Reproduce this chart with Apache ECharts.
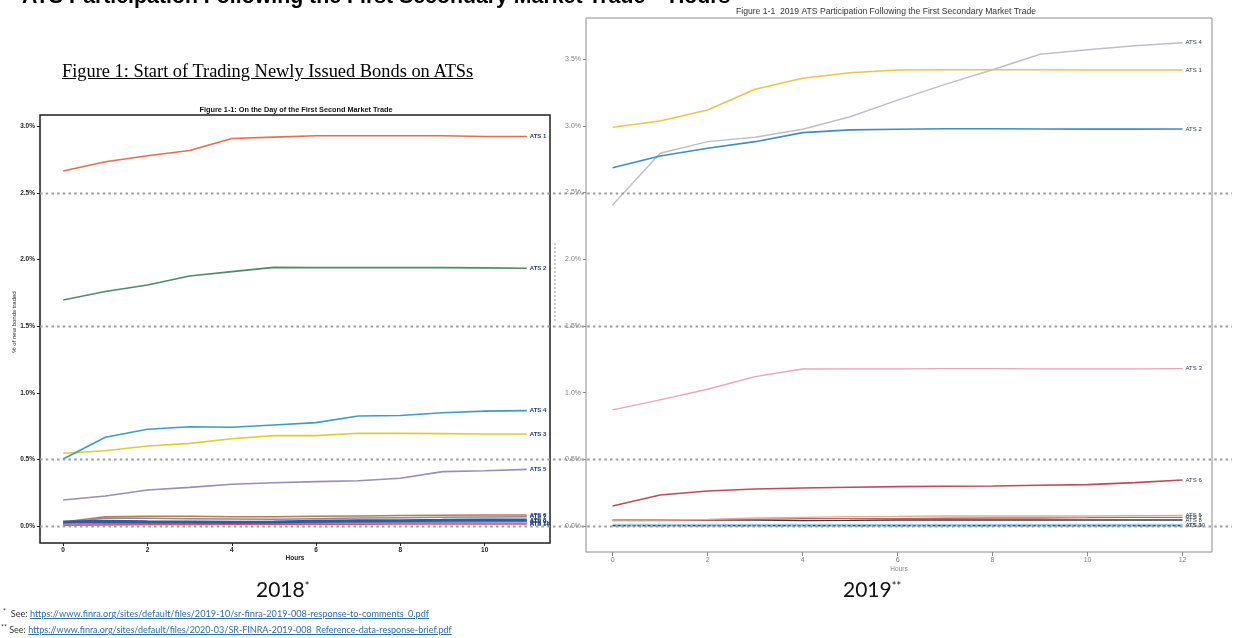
<!DOCTYPE html>
<html>
<head>
<meta charset="utf-8">
<script src="https://cdn.jsdelivr.net/npm/echarts@6/dist/echarts.min.js"></script>
<style>
  html, body { margin: 0; padding: 0; background: #fff; }
  #wrap { position: relative; width: 1239px; height: 638px; overflow: hidden; background: #fff; }
  #chart { position: absolute; left: 0; top: 0; width: 1239px; height: 638px; }
  .t { position: absolute; white-space: nowrap; z-index: 5; }
  #slideTitle { left: 22px; top: -14px; font: bold 21.3px "Liberation Sans", Arial, sans-serif; line-height: 21px; color: #000; }
  #fig1 { left: 62px; top: 61px; font: 18.4px "Liberation Serif", "Times New Roman", serif; line-height: 20px; color: #000; text-decoration: underline; }
  .year { font: 21px Lato, "Noto Sans", sans-serif; line-height: 24px; color: #111; }
  .year sup { font-size: 11px; vertical-align: top; position: relative; top: -3px; }
  .note { font: 9.2px Lato, "Noto Sans", sans-serif; line-height: 12px; color: #333; }
  .note a { color: #2f6db5; text-decoration: underline; }
  .note .mk { font-size: 7px; position: relative; top: -3px; }
</style>
</head>
<body>
<div id="wrap">
  <div id="chart"></div>
  <div class="t" id="slideTitle">ATS Participation Following the First Secondary Market Trade – Hours</div>
  <div class="t" id="fig1">Figure 1: Start of Trading Newly Issued Bonds on ATSs</div>
  <div class="t year" style="left:256px; top:577px;">2018<sup>*</sup></div>
  <div class="t year" style="left:843px; top:577px;">2019<sup>**</sup></div>
  <div class="t note" style="left:3px; top:608px;"><span class="mk">*</span>&nbsp; See: <a>https://www.finra.org/sites/default/files/2019-10/sr-finra-2019-008-response-to-comments_0.pdf</a></div>
  <div class="t note" style="left:1px; top:624px; font-size:9px;"><span class="mk">**</span> See: <a>https://www.finra.org/sites/default/files/2020-03/SR-FINRA-2019-008_Reference-data-response-brief.pdf</a></div>
</div>
<script>
// Hours since first secondary market trade
const hours2018 = [0, 1, 2, 3, 4, 5, 6, 7, 8, 9, 10, 11];
const hours2019 = [0, 1, 2, 3, 4, 5, 6, 7, 8, 9, 10, 11, 12];

// 2018: % of new bonds traded on each ATS
const ats1_2018 = [2.665, 2.735, 2.78, 2.82, 2.91, 2.92, 2.93, 2.93, 2.93, 2.93, 2.925, 2.925];
const ats2_2018 = [1.697, 1.76, 1.81, 1.877, 1.91, 1.942, 1.94, 1.94, 1.94, 1.94, 1.938, 1.935];
const ats4_2018 = [0.503, 0.666, 0.726, 0.745, 0.741, 0.758, 0.776, 0.826, 0.83, 0.85, 0.862, 0.866];
const ats3_2018 = [0.546, 0.565, 0.60, 0.62, 0.655, 0.678, 0.678, 0.696, 0.695, 0.693, 0.69, 0.69];
const ats5_2018 = [0.195, 0.225, 0.27, 0.29, 0.313, 0.325, 0.333, 0.34, 0.358, 0.408, 0.415, 0.425];
const ats6_2018 = [0.03, 0.07, 0.072, 0.072, 0.07, 0.07, 0.072, 0.075, 0.078, 0.08, 0.082, 0.083];
const ats7_2018 = [0.02, 0.06, 0.058, 0.055, 0.052, 0.05, 0.055, 0.06, 0.062, 0.065, 0.068, 0.07];
const ats8_2018 = [0.03, 0.035, 0.032, 0.03, 0.028, 0.03, 0.035, 0.04, 0.04, 0.042, 0.045, 0.045];
const ats9_2018 = [0.025, 0.02, 0.02, 0.022, 0.022, 0.025, 0.025, 0.028, 0.03, 0.03, 0.032, 0.033];
const ats10_2018 = [0.005, 0.008, 0.01, 0.01, 0.012, 0.012, 0.012, 0.012, 0.015, 0.015, 0.015, 0.015];
const ats11_2018 = [0.012, 0.015, 0.018, 0.02, 0.02, 0.02, 0.02, 0.02, 0.02, 0.022, 0.022, 0.022];

// 2019: % of new bonds traded on each ATS
const ats1_2019 = [2.989, 3.036, 3.118, 3.274, 3.356, 3.398, 3.418, 3.42, 3.42, 3.42, 3.418, 3.418, 3.418];
const ats2_2019 = [2.686, 2.774, 2.831, 2.881, 2.949, 2.969, 2.974, 2.978, 2.978, 2.976, 2.975, 2.975, 2.976];
const ats4_2019 = [2.406, 2.794, 2.881, 2.914, 2.974, 3.068, 3.193, 3.31, 3.42, 3.536, 3.57, 3.60, 3.623];
const ats3_2019 = [0.87, 0.945, 1.025, 1.12, 1.177, 1.178, 1.178, 1.18, 1.18, 1.178, 1.178, 1.178, 1.18];
const ats6_2019 = [0.15, 0.232, 0.262, 0.277, 0.285, 0.29, 0.295, 0.298, 0.3, 0.305, 0.31, 0.325, 0.345];
const ats5_2019 = [0.045, 0.045, 0.05, 0.06, 0.065, 0.07, 0.072, 0.075, 0.075, 0.075, 0.075, 0.078, 0.08];
const ats7_2019 = [0.04, 0.04, 0.045, 0.05, 0.055, 0.055, 0.055, 0.058, 0.06, 0.06, 0.062, 0.065, 0.065];
const ats8_2019 = [0.045, 0.045, 0.045, 0.045, 0.04, 0.042, 0.045, 0.045, 0.045, 0.045, 0.045, 0.045, 0.045];
const ats9_2019 = [0.005, 0.005, 0.005, 0.005, 0.005, 0.005, 0.005, 0.005, 0.005, 0.005, 0.005, 0.005, 0.005];
const ats10_2019 = [0.002, 0.002, 0.002, 0.002, 0.002, 0.002, 0.002, 0.002, 0.002, 0.002, 0.002, 0.002, 0.002];

// Axis ticks
const xTicks2018 = [0, 2, 4, 6, 8, 10];
const xTicks2019 = [0, 2, 4, 6, 8, 10, 12];
const yTicks2018 = [0, 0.5, 1, 1.5, 2, 2.5, 3];
const yTicks2019 = [0, 0.5, 1, 1.5, 2, 2.5, 3, 3.5];
// Slide-wide dotted reference levels (%)
const guideLevels = [0, 0.5, 1.5, 2.5];

const pct = v => v.toFixed(1) + '%';
const pairs = (xs, ys) => xs.map((x, i) => [x, ys[i]]);

function line2018(name, hours, values, color, width, extra) {
  return Object.assign({
    name, type: 'line', xAxisIndex: 0, yAxisIndex: 0,
    data: pairs(hours, values), showSymbol: false, silent: true,
    lineStyle: { color, width },
    endLabel: { show: true, formatter: '{a}', color: '#1b3b8e', fontSize: 6, fontWeight: 'bold',
                fontFamily: 'Liberation Sans', distance: 3 }
  }, extra || {});
}
function line2019(name, hours, values, color, width, extra) {
  return Object.assign({
    name, type: 'line', xAxisIndex: 1, yAxisIndex: 1,
    data: pairs(hours, values), showSymbol: false, silent: true,
    lineStyle: { color, width },
    endLabel: { show: true, formatter: '{a}', color: '#2f3a5a', fontSize: 6,
                fontFamily: 'Liberation Sans', distance: 3 }
  }, extra || {});
}

const chart = echarts.init(document.getElementById('chart'), null, { renderer: 'canvas' });

const leftLabel = { fontSize: 6.5, fontWeight: 'bold', color: '#222', fontFamily: 'Liberation Sans' };
const rightLabel = { fontSize: 7, color: '#808080', fontFamily: 'Liberation Sans' };

chart.setOption({
  animation: false,
  backgroundColor: 'transparent',
  grid: [
    { left: 40, top: 115, width: 510, height: 428, show: true, borderColor: '#1e1e1e', borderWidth: 1.5,
      backgroundColor: 'transparent', containLabel: false, outerBoundsMode: 'none' },
    { left: 586, top: 18, width: 626, height: 534, show: true, borderColor: '#8c8c8c', borderWidth: 1,
      backgroundColor: 'transparent', containLabel: false, outerBoundsMode: 'none' }
  ],
  xAxis: [
    { gridIndex: 0, type: 'value', min: -0.55, max: 11.55,
      axisLine: { show: false, onZero: false }, splitLine: { show: false },
      axisTick: { show: true, customValues: xTicks2018, length: 3, lineStyle: { color: '#222' } },
      axisLabel: Object.assign({ customValues: xTicks2018, margin: 4 }, leftLabel) },
    { gridIndex: 1, type: 'value', min: -0.56, max: 12.62,
      axisLine: { show: false, onZero: false }, splitLine: { show: false },
      axisTick: { show: true, customValues: xTicks2019, length: 4, lineStyle: { color: '#888' } },
      axisLabel: Object.assign({ customValues: xTicks2019, margin: 5 }, rightLabel) }
  ],
  yAxis: [
    { gridIndex: 0, type: 'value', min: -0.128, max: 3.086,
      axisLine: { show: false, onZero: false }, splitLine: { show: false },
      axisTick: { show: true, customValues: yTicks2018, length: 3, lineStyle: { color: '#222' } },
      axisLabel: Object.assign({ customValues: yTicks2018, margin: 5, formatter: pct }, leftLabel) },
    { gridIndex: 1, type: 'value', min: -0.195, max: 3.808,
      axisLine: { show: false, onZero: false }, splitLine: { show: false },
      axisTick: { show: true, customValues: yTicks2019, length: 3, lineStyle: { color: '#888' } },
      axisLabel: Object.assign({ customValues: yTicks2019, margin: 5, formatter: pct }, rightLabel) }
  ],
  series: [
    line2018('ATS 11', hours2018, ats11_2018, '#b4a6d6', 1.5),
    line2018('ATS 10', hours2018, ats10_2018, '#e0505e', 1.5),
    line2018('ATS 9', hours2018, ats9_2018, '#5b86c8', 1.5),
    line2018('ATS 7', hours2018, ats7_2018, '#8c8c8c', 1.5),
    line2018('ATS 6', hours2018, ats6_2018, '#b8785a', 1.5),
    line2018('ATS 8', hours2018, ats8_2018, '#2d5aa6', 3),
    line2018('ATS 5', hours2018, ats5_2018, '#978cbd', 1.6),
    line2018('ATS 3', hours2018, ats3_2018, '#e2cc2a', 1.6),
    line2018('ATS 4', hours2018, ats4_2018, '#3a9cc8', 1.6),
    line2018('ATS 2', hours2018, ats2_2018, '#4e8a6a', 1.6),
    line2018('ATS 1', hours2018, ats1_2018, '#ee6a4c', 1.6),

    line2019('ATS 9', hours2019, ats9_2019, '#a3cbe9', 3),
    line2019('ATS 10', hours2019, ats10_2019, '#444', 1.2, { lineStyle: { color: '#444', width: 1.2, type: [3, 2] } }),
    line2019('ATS 8', hours2019, ats8_2019, '#3a3a3a', 1.3),
    line2019('ATS 7', hours2019, ats7_2019, '#cf5a5a', 1.3),
    line2019('ATS 5', hours2019, ats5_2019, '#dcae96', 1.3),
    line2019('ATS 6', hours2019, ats6_2019, '#c44858', 1.6),
    line2019('ATS 3', hours2019, ats3_2019, '#eaa4b4', 1.4),
    line2019('ATS 4', hours2019, ats4_2019, '#bdbdcb', 1.4),
    line2019('ATS 2', hours2019, ats2_2019, '#3b8dc6', 1.6),
    line2019('ATS 1', hours2019, ats1_2019, '#f1c24a', 1.6)
  ]
});

// Text and slide overlays positioned with the axes' own scales
const yPix = v => chart.convertToPixel({ yAxisIndex: 0 }, v);
const xL = v => chart.convertToPixel({ xAxisIndex: 0 }, v);
const xR = v => chart.convertToPixel({ xAxisIndex: 1 }, v);

const graphics = [
  { type: 'text', x: 296, y: 110, z: 10,
    style: { text: 'Figure 1-1: On the Day of the First Second Market Trade', fontSize: 7.3, fontWeight: 'bold',
             fontFamily: 'Liberation Sans', fill: '#111', align: 'center', verticalAlign: 'middle' } },
  { type: 'text', x: 886, y: 12, z: 10,
    style: { text: 'Figure 1-1  2019 ATS Participation Following the First Secondary Market Trade', fontSize: 8.6,
             fontFamily: 'Liberation Sans', fill: '#333', align: 'center', verticalAlign: 'middle' } },
  { type: 'text', x: (xL(-0.55) + xL(11.55)) / 2, y: 558, z: 10,
    style: { text: 'Hours', fontSize: 6.5, fontWeight: 'bold', fontFamily: 'Liberation Sans', fill: '#222',
             align: 'center', verticalAlign: 'middle' } },
  { type: 'text', x: (xR(-0.56) + xR(12.62)) / 2, y: 569, z: 10,
    style: { text: 'Hours', fontSize: 6.5, fontFamily: 'Liberation Sans', fill: '#888',
             align: 'center', verticalAlign: 'middle' } },
  { type: 'text', x: 14, y: 322, rotation: Math.PI / 2, z: 10,
    style: { text: '% of new bonds traded', fontSize: 6, fontFamily: 'Liberation Sans', fill: '#222',
             align: 'center', verticalAlign: 'middle' } },
  { type: 'line', z: 20, shape: { x1: 555, y1: 243, x2: 555, y2: 323 },
    style: { stroke: '#9a9a9a', lineWidth: 1, lineDash: [2, 2] } }
];
guideLevels.forEach(v => {
  const y = Math.round(yPix(v)) + 0.5;
  graphics.push({ type: 'line', z: 20, shape: { x1: 40, y1: y, x2: 1232, y2: y },
    style: { stroke: '#9d9d9d', lineWidth: 2, lineDash: [2.5, 3.2] } });
});
chart.setOption({ graphic: graphics });
</script>
</body>
</html>
